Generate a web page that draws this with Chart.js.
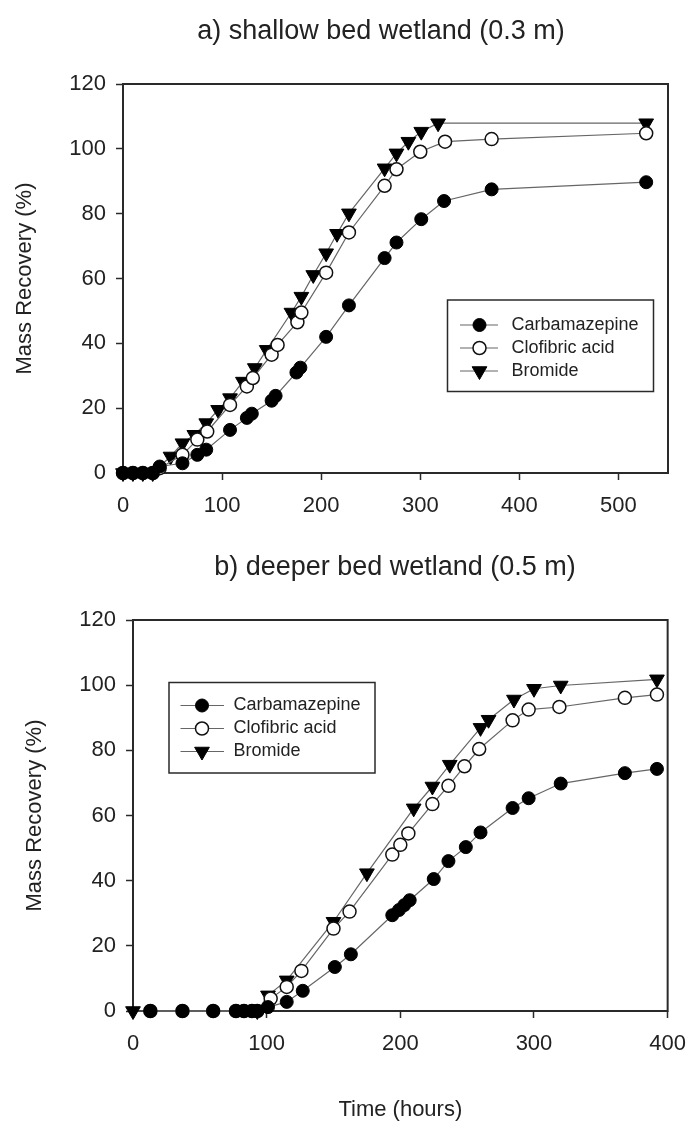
<!DOCTYPE html>
<html>
<head>
<meta charset="utf-8">
<title>Mass recovery</title>
<script src="https://cdn.jsdelivr.net/npm/chart.js@4.4.1/dist/chart.umd.min.js"></script>
<style>
  html, body { margin: 0; padding: 0; background: #fff; }
  body { width: 699px; height: 1127px; position: relative; overflow: hidden;
         font-family: "Liberation Sans", Arial, sans-serif; color: #222; }
  .panel { position: absolute; left: 0; width: 699px; }
  .panel canvas { display: block; }
  .ttl { position: absolute; font-size: 27px; line-height: 27px; white-space: nowrap;
         transform: translateX(-50%); }
</style>
</head>
<body>
<div class="panel" style="top:0;height:540px"><canvas id="chartTop" width="699" height="540"></canvas></div>
<div class="panel" style="top:540px;height:587px"><canvas id="chartBottom" width="699" height="587"></canvas></div>
<div class="ttl" style="left:381px;top:17px">a) shallow bed wetland (0.3 m)</div>
<div class="ttl" style="left:395px;top:553px">b) deeper bed wetland (0.5 m)</div>

<script>
// --- a) shallow bed (0.3 m) ---
const timeTopCbz  = [0, 10, 20, 30, 37, 60, 75, 84, 108, 125, 130, 150, 154, 175, 179, 205, 228, 264, 276, 301, 324, 372, 528];
const recTopCbz   = [0, 0, 0, 0, 2, 3, 5.6, 7.2, 13.3, 17, 18.3, 22.3, 23.8, 31, 32.5, 42, 51.7, 66.3, 71.1, 78.3, 83.9, 87.5, 89.7];
const timeTopClof = [0, 10, 20, 30, 37, 60, 75, 85, 108, 125, 131, 150, 156, 176, 180, 205, 228, 264, 276, 300, 325, 372, 528];
const recTopClof  = [0, 0, 0, 0, 1.5, 5.6, 10.3, 12.8, 21, 26.7, 29.3, 36.5, 39.5, 46.5, 49.5, 61.8, 74.2, 88.6, 93.7, 99.1, 102.2, 103, 104.8];
const timeTopBr   = [0, 10, 20, 30, 48, 60, 72, 84, 96, 108, 121, 133, 145, 170, 180, 192, 205, 216, 228, 264, 276, 288, 301, 318, 528];
const recTopBr    = [0, 0, 0, 0, 5.1, 9.2, 11.8, 15.4, 19.5, 23.1, 28.2, 32.4, 38, 49.5, 54.4, 61.1, 67.8, 73.8, 80.1, 94, 98.6, 102.2, 105.3, 107.9, 107.9];

// --- b) deeper bed (0.5 m) ---
const timeBotCbz  = [13, 37, 60, 77, 83, 89, 93, 101, 115, 127, 151, 163, 194, 199, 203, 207, 225, 236, 249, 260, 284, 296, 320, 368, 392];
const recBotCbz   = [0, 0, 0, 0, 0, 0, 0, 1.2, 2.8, 6.2, 13.5, 17.4, 29.4, 31, 32.5, 34, 40.5, 46, 50.3, 54.8, 62.3, 65.3, 69.8, 73, 74.3];
const timeBotClof = [13, 37, 60, 77, 83, 89, 93, 103, 115, 126, 150, 162, 194, 200, 206, 224, 236, 248, 259, 284, 296, 319, 368, 392];
const recBotClof  = [0, 0, 0, 0, 0, 0, 0, 3.8, 7.4, 12.3, 25.3, 30.5, 48, 51, 54.5, 63.5, 69.1, 75.1, 80.4, 89.2, 92.5, 93.3, 96.1, 97.1];
const timeBotBr   = [0, 93, 101, 115, 150, 175, 210, 224, 237, 260, 266, 285, 300, 320, 392];
const recBotBr    = [0, 0, 4.8, 9.4, 27.4, 42.3, 62.2, 68.9, 75.6, 86.9, 89.4, 95.6, 98.9, 99.9, 101.8];

const seriesNames = ['Carbamazepine', 'Clofibric acid', 'Bromide'];
const yTicks = { min: 0, max: 120, step: 20 };

Chart.defaults.font.family = '"Liberation Sans", Arial, sans-serif';
Chart.defaults.color = '#222';

const INK = '#2a2a2a';
const markerStyles = [
  { pointStyle: 'circle', pointRadius: 6.5, pointBackgroundColor: '#000', pointBorderColor: '#000', pointBorderWidth: 1 },
  { pointStyle: 'circle', pointRadius: 6.5, pointBackgroundColor: '#fff', pointBorderColor: '#111', pointBorderWidth: 1.5 },
  { pointStyle: 'triangle', pointRotation: 180, pointRadius: 8.5, pointBackgroundColor: '#000', pointBorderColor: '#000', pointBorderWidth: 1 }
];

function series(i, xs, ys) {
  return Object.assign({
    label: seriesNames[i],
    data: xs.map((x, k) => ({ x: x, y: ys[k] })),
    showLine: true,
    borderColor: '#666',
    borderWidth: 1.2,
    tension: 0,
    clip: false
  }, markerStyles[i]);
}

// box round the plot area
const framePlugin = {
  id: 'frame',
  beforeDatasetsDraw(chart) {
    const { ctx, chartArea: a } = chart;
    ctx.save();
    ctx.strokeStyle = INK;
    ctx.lineWidth = 2;
    ctx.strokeRect(a.left, a.top, a.right - a.left, a.bottom - a.top);
    ctx.restore();
  }
};

// legend drawn in a box inside the plot, like the original
const boxLegend = {
  id: 'boxLegend',
  afterDatasetsDraw(chart, args, opts) {
    const { ctx, chartArea: a } = chart;
    const x0 = a.left + opts.left, y0 = a.top + opts.top;
    ctx.save();
    ctx.fillStyle = '#fff';
    ctx.fillRect(x0, y0, opts.width, opts.height);
    ctx.strokeStyle = INK;
    ctx.lineWidth = 1.5;
    ctx.strokeRect(x0, y0, opts.width, opts.height);
    chart.data.datasets.forEach((ds, i) => {
      const cy = y0 + opts.firstRow + i * opts.rowGap;
      ctx.strokeStyle = ds.borderColor;
      ctx.lineWidth = ds.borderWidth;
      ctx.beginPath();
      ctx.moveTo(x0 + opts.lineFrom, cy);
      ctx.lineTo(x0 + opts.lineTo, cy);
      ctx.stroke();
      ctx.fillStyle = ds.pointBackgroundColor;
      ctx.strokeStyle = ds.pointBorderColor;
      ctx.lineWidth = ds.pointBorderWidth;
      Chart.helpers.drawPoint(ctx, {
        pointStyle: ds.pointStyle, radius: ds.pointRadius,
        rotation: ds.pointRotation || 0, borderWidth: ds.pointBorderWidth
      }, x0 + opts.marker, cy);
      ctx.fillStyle = '#222';
      ctx.font = '18px "Liberation Sans", Arial, sans-serif';
      ctx.textBaseline = 'middle';
      ctx.textAlign = 'left';
      ctx.fillText(ds.label, x0 + opts.text, cy);
    });
    ctx.restore();
  }
};

function tickGrid() {
  return { display: true, drawOnChartArea: false, drawTicks: true, tickLength: 7, tickWidth: 1.5, tickColor: INK };
}

function makeChart(id, cfg) {
  return new Chart(document.getElementById(id), {
    type: 'scatter',
    data: { datasets: cfg.datasets },
    plugins: [framePlugin, boxLegend],
    options: {
      responsive: false,
      animation: false,
      events: [],
      layout: { padding: cfg.padding },
      scales: {
        x: {
          type: 'linear', min: 0, max: cfg.xMax,
          ticks: { stepSize: 100, includeBounds: false, padding: 13, maxRotation: 0, font: { size: 22 } },
          grid: tickGrid(),
          border: { display: false },
          title: cfg.xTitle
            ? { display: true, text: cfg.xTitle, font: { size: 22 }, padding: { top: 0, bottom: 4 } }
            : { display: false },
          afterFit(scale) { scale.height = cfg.xHeight; }
        },
        y: {
          type: 'linear', min: yTicks.min, max: yTicks.max,
          ticks: { stepSize: yTicks.step, padding: 10, font: { size: 22 } },
          grid: tickGrid(),
          border: { display: false },
          title: { display: true, text: 'Mass Recovery (%)', font: { size: 22 }, padding: { top: cfg.yTitlePad, bottom: 0 } },
          afterFit(scale) { scale.width = cfg.yWidth; }
        }
      },
      plugins: {
        legend: { display: false },
        tooltip: { enabled: false },
        boxLegend: cfg.legend
      }
    }
  });
}

makeChart('chartTop', {
  datasets: [
    series(0, timeTopCbz, recTopCbz),
    series(1, timeTopClof, recTopClof),
    series(2, timeTopBr, recTopBr)
  ],
  xMax: 550,
  padding: { top: 84, right: 31, left: 0, bottom: 0 },
  xHeight: 67,
  yWidth: 123,
  yTitlePad: 12,
  legend: { left: 324.5, top: 216, width: 206, height: 91.5, firstRow: 25, rowGap: 23,
            lineFrom: 12.5, lineTo: 50.5, marker: 32, text: 64 }
});

makeChart('chartBottom', {
  datasets: [
    series(0, timeBotCbz, recBotCbz),
    series(1, timeBotClof, recBotClof),
    series(2, timeBotBr, recBotBr)
  ],
  xMax: 400,
  xTitle: 'Time (hours)',
  padding: { top: 80, right: 20, left: 0, bottom: 0 },
  xHeight: 116,
  yWidth: 133,
  yTitlePad: 22,
  legend: { left: 36, top: 62.5, width: 206, height: 90.5, firstRow: 23, rowGap: 23,
            lineFrom: 11.5, lineTo: 55, marker: 33, text: 64.5 }
});
</script>
</body>
</html>
